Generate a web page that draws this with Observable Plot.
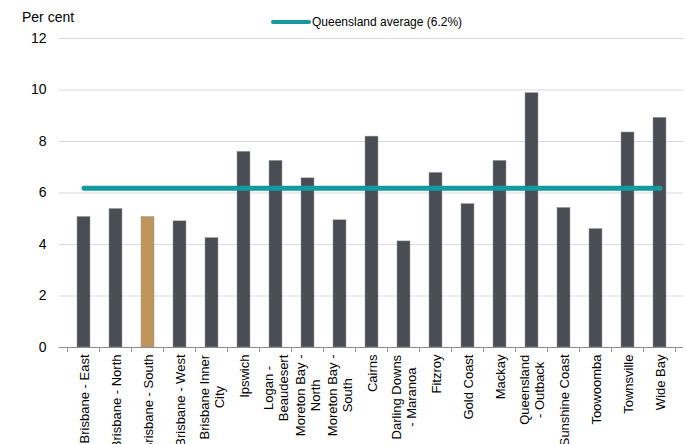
<!DOCTYPE html>
<html><head><meta charset="utf-8">
<script src="https://cdn.jsdelivr.net/npm/d3@7"></script>
<script src="https://cdn.jsdelivr.net/npm/@observablehq/plot@0.6"></script>
<style>
body{margin:0;background:#fff;font-family:"Liberation Sans",Arial,sans-serif;}
#wrap{position:relative;width:686px;height:444px;overflow:hidden;}
#unit{position:absolute;left:22px;top:9px;font-size:14px;color:#000;}
#legend{position:absolute;left:271px;top:15px;font-size:12px;display:flex;align-items:center;color:#000;}
#legend .sw{display:inline-block;width:40px;height:4px;background:#139aa0;border-radius:2px;margin-right:1px;}
</style></head><body>
<div id="wrap"><div id="unit">Per cent</div><div id="legend"><span class="sw"></span><span>Queensland average (6.2%)</span></div></div>
<script>
const regions = ["Brisbane - East","Brisbane - North","Brisbane - South","Brisbane - West","Brisbane Inner City","Ipswich","Logan - Beaudesert","Moreton Bay - North","Moreton Bay - South","Cairns","Darling Downs - Maranoa","Fitzroy","Gold Coast","Mackay","Queensland - Outback","Sunshine Coast","Toowoomba","Townsville","Wide Bay"];
const tickLabels = ["Brisbane - East","Brisbane - North","Brisbane - South","Brisbane - West","Brisbane Inner\nCity","Ipswich","Logan -\nBeaudesert","Moreton Bay -\nNorth","Moreton Bay -\nSouth","Cairns","Darling Downs\n- Maranoa","Fitzroy","Gold Coast","Mackay","Queensland\n- Outback","Sunshine Coast","Toowoomba","Townsville","Wide Bay"];
const values = [5.07,5.38,5.07,4.9,4.25,7.6,7.25,6.57,4.94,8.19,4.12,6.78,5.57,7.25,9.88,5.42,4.6,8.35,8.92];
const highlight = "Brisbane - South";
const average = 6.18;
const yTicks = [0,2,4,6,8,10,12];

const data = regions.map((r,i)=>({region:r, value:values[i]}));
const avgData = regions.map(r=>({region:r, avg:average}));
const labelOf = new Map(regions.map((r,i)=>[r, tickLabels[i]]));

function boundaryTicks(index, scales) {
  const x = scales.x, y = scales.y;
  const step = x.step(), bw = x.bandwidth();
  const xs = regions.map(r => x(r) + bw/2 - step/2);
  xs.push(xs[xs.length-1] + step);
  const g = d3.create("svg:g");
  g.selectAll("line").data(xs).join("line")
    .attr("x1", d=>d).attr("x2", d=>d)
    .attr("y1", y(0)).attr("y2", y(0)+5)
    .attr("stroke", "#999").attr("stroke-width", 1);
  return g.node();
}

const plot = Plot.plot({
  width: 686, height: 444,
  marginLeft: 59, marginRight: 3, marginTop: 38, marginBottom: 97,
  style: {fontFamily: '"Liberation Sans", Arial, sans-serif', color: "#000", background: "transparent"},
  x: {domain: regions, paddingInner: 0.6, paddingOuter: 0.3},
  y: {domain: [0, 12]},
  color: {type: "identity"},
  marks: [
    Plot.gridY(yTicks, {stroke: "#d9d9d9", strokeOpacity: 1}),
    Plot.barY(data, {x: "region", y: "value", fill: d => d.region === highlight ? "#c0955a" : "#4a4d53", stroke: "#9a9da2", strokeWidth: 0.5}),
    Plot.ruleY([0], {stroke: "#8c8c8c"}),
    boundaryTicks,
    Plot.lineY(avgData, {x: "region", y: "avg", stroke: "#139aa0", strokeWidth: 5, strokeLinecap: "round"}),
    Plot.axisY(yTicks, {tickSize: 0, tickPadding: 13, fontSize: 14, label: null}),
    Plot.axisX({tickSize: 0, tickRotate: -90, tickPadding: 7, fontSize: 13, lineHeight: 1.15, tickFormat: d => labelOf.get(d), label: null})
  ]
});
document.getElementById("wrap").prepend(plot);

// centre multi-line rotated labels within their block (Excel style)
plot.querySelectorAll('g[aria-label="x-axis tick label"] text').forEach(t => {
  const spans = t.querySelectorAll("tspan");
  if (spans.length > 1) {
    const W = t.getBBox().width;
    t.setAttribute("text-anchor", "middle");
    spans.forEach(s => s.setAttribute("x", -W/2));
  }
});
</script>
</body></html>
